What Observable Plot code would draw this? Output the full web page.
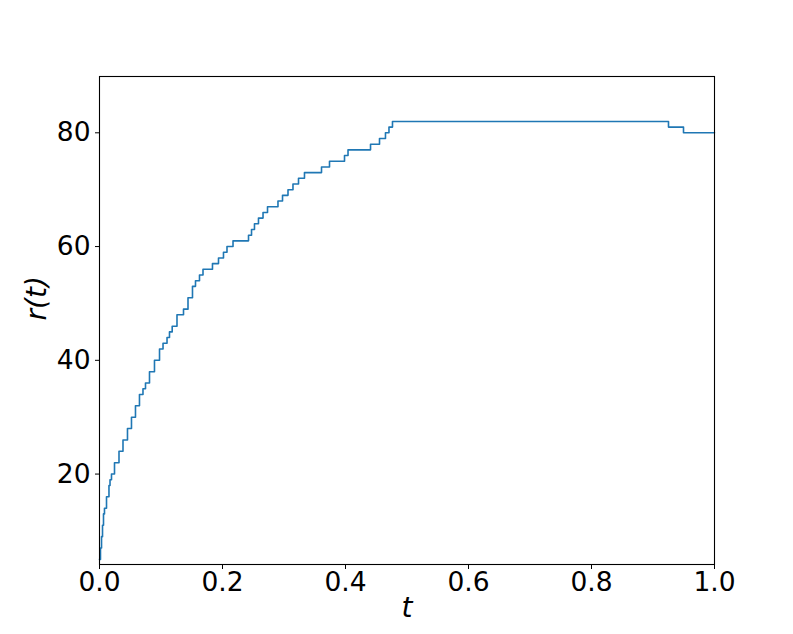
<!DOCTYPE html>
<html>
<head>
<meta charset="utf-8">
<script src="https://cdn.jsdelivr.net/npm/d3@7"></script>
<script src="https://cdn.jsdelivr.net/npm/@observablehq/plot@0.6"></script>
<style>
  html, body { margin: 0; padding: 0; background: #fff; }
</style>
</head>
<body>
<div id="chart"></div>
<script>
// Step times t at which r(t) takes a new value
const tValues = [0, 0.0016, 0.0033, 0.0049, 0.0065, 0.0081, 0.0114, 0.0154, 0.0171, 0.0195,
  0.0244, 0.0317, 0.0382, 0.0455, 0.0520, 0.0585, 0.0650, 0.0707, 0.0748, 0.0813,
  0.0894, 0.0976, 0.1033, 0.1098, 0.1138, 0.1182, 0.1260, 0.1366, 0.1439, 0.1512,
  0.1561, 0.1626, 0.1683, 0.1837, 0.1935, 0.2016, 0.2073, 0.2171, 0.2423, 0.2472,
  0.2520, 0.2585, 0.2659, 0.2732, 0.2902, 0.2976, 0.3065, 0.3146, 0.3236, 0.3333,
  0.3610, 0.3740, 0.3984, 0.4041, 0.4407, 0.4553, 0.4650, 0.4707, 0.4764, 0.9252,
  0.9496, 1.0];
// r(t) values starting at each t
const rValues = [5, 7, 9, 11, 13, 14, 16, 18, 19, 20,
  22, 24, 26, 28, 30, 32, 34, 35, 36, 38,
  40, 42, 43, 44, 45, 46, 48, 49, 51, 53,
  54, 55, 56, 57, 58, 59, 60, 61, 62, 63,
  64, 65, 66, 67, 68, 69, 70, 71, 72, 73,
  74, 75, 76, 77, 78, 79, 80, 81, 82, 81,
  80, 80];
const xTicks = [0, 0.2, 0.4, 0.6, 0.8, 1.0];
const yTicks = [20, 40, 60, 80];

const data = tValues.map((t, i) => ({t, r: rValues[i]}));

const chart = Plot.plot({
  width: 793,
  height: 634,
  marginLeft: 99,
  marginRight: 79,
  marginTop: 76,
  marginBottom: 70,
  style: {fontFamily: "DejaVu Sans", fontSize: "26.5px", background: "white", color: "black"},
  x: {domain: [0, 1]},
  y: {domain: [4.1, 89.9]},
  marks: [
    Plot.line(data, {x: "t", y: "r", curve: "step-after", stroke: "#1f77b4", strokeWidth: 1.6}),
    Plot.frame({stroke: "black", strokeWidth: 1.1}),
    Plot.axisX({ticks: xTicks, tickFormat: d3.format(".1f"), tickSize: 5, tickPadding: 3, label: null}),
    Plot.axisY({ticks: yTicks, tickFormat: d3.format("d"), tickSize: 4, tickPadding: 5, label: null}),
    Plot.text(["t"], {frameAnchor: "bottom", dy: 52, text: d => d, fontStyle: "italic", fontSize: 28}),
    Plot.text(["r(t)"], {frameAnchor: "left", dx: -62, rotate: -90, text: d => d, fontStyle: "italic", fontSize: 28})
  ]
});
document.getElementById("chart").appendChild(chart);
</script>
</body>
</html>
